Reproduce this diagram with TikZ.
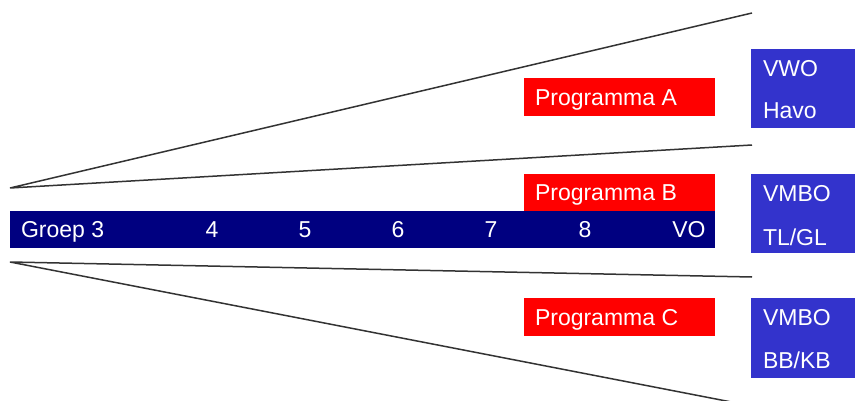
\documentclass[tikz,border=0pt]{standalone}
\usepackage{fontspec}
\setmainfont{Liberation Sans}
\begin{document}
\begin{tikzpicture}[x=1pt,y=-1pt,
  every node/.style={inner sep=0pt,outer sep=0pt},
  lbl/.style={text=white,font=\fontsize{23}{27}\selectfont,anchor=base west},
  num/.style={text=white,font=\fontsize{23}{27}\selectfont,anchor=base},
  fan/.style={draw=black!80,line width=1.5pt}]
\useasboundingbox (0,0) rectangle (855,401);
\clip (0,0) rectangle (855,401);
\definecolor{navybar}{HTML}{000080}
\definecolor{boxblue}{HTML}{3333CC}
% fan lines
\coordinate (a1) at (10,188);
\coordinate (t1) at (752,13);
\coordinate (t2) at (752,145);
\coordinate (a2) at (10,262);
\coordinate (b1) at (752,277);
\coordinate (b2) at (752,406);
\draw[fan] (t1) -- (a1) -- (t2);
\draw[fan] (b1) -- (a2) -- (b2);
% bar
\fill[navybar] (10,211) rectangle (715,248);
\node[lbl] (g3) at (21,238) {Groep 3};
\node[num] (n4) at (212,238) {4};
\node[num] (n5) at (305,238) {5};
\node[num] (n6) at (398,238) {6};
\node[num] (n7) at (491,238) {7};
\node[num] (n8) at (585,238) {8};
\node[num] (vo) at (689,238) {VO};
% red boxes
\fill[red] (524,78) rectangle (715,116);
\node[lbl] (pa) at (535,105.5) {Programma A};
\fill[red] (524,174) rectangle (715,211);
\node[lbl] (pb) at (535,201) {Programma B};
\fill[red] (524,298) rectangle (715,336);
\node[lbl] (pc) at (535,325.5) {Programma C};
% blue boxes
\fill[boxblue] (751,49) rectangle (855,128);
\node[lbl] (vwo) at (763,76.5) {VWO};
\node[lbl] (havo) at (763,119) {Havo};
\fill[boxblue] (751,174) rectangle (855,253);
\node[lbl] (vmbo1) at (763,201.5) {VMBO};
\node[lbl] (tlgl) at (763,245) {TL/GL};
\fill[boxblue] (751,298) rectangle (855,378);
\node[lbl] (vmbo2) at (763,325.5) {VMBO};
\node[lbl] (bbkb) at (763,368.5) {BB/KB};
\end{tikzpicture}
\end{document}
